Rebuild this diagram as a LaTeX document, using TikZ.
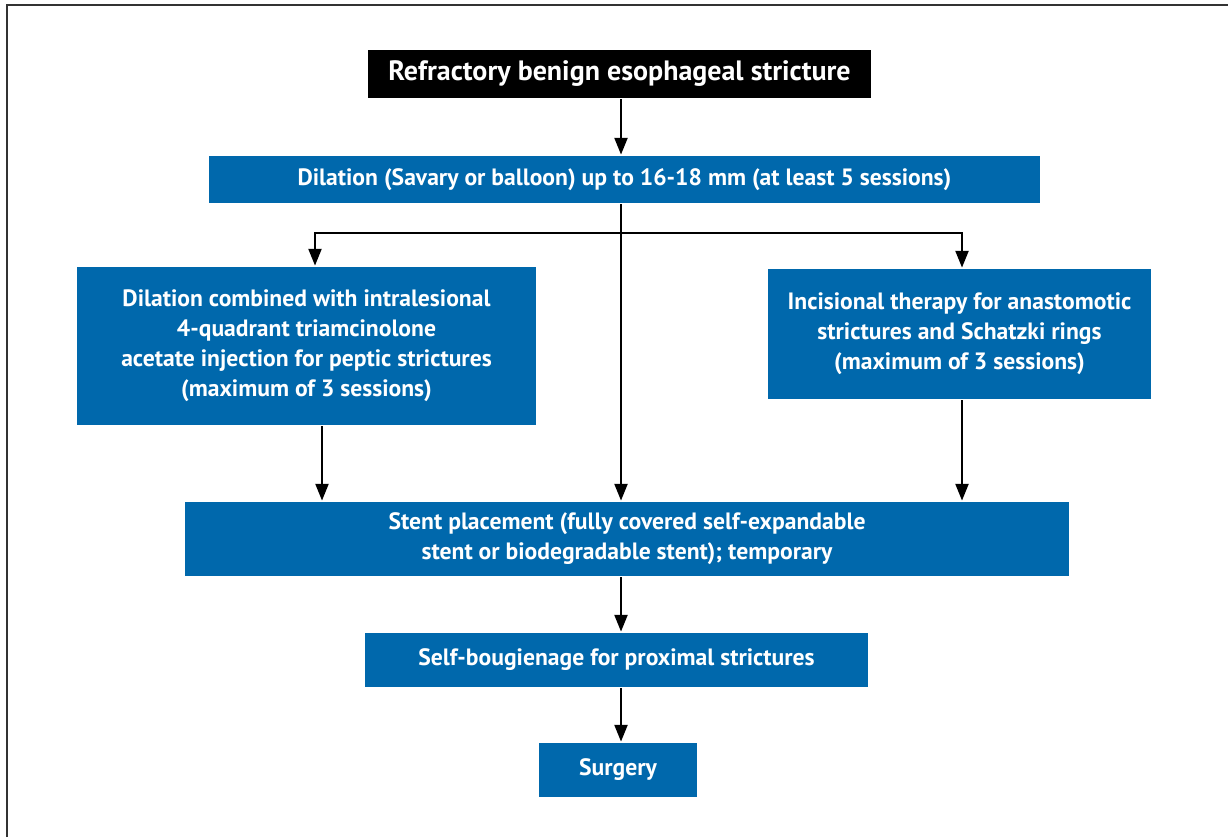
\documentclass[tikz,border=0pt]{standalone}
\usepackage{fontspec}
\setmainfont{PT Sans}
\usetikzlibrary{arrows.meta}
\definecolor{ebblue}{HTML}{0068AC}
\begin{document}
\begin{tikzpicture}[x=0.025cm, y=-0.025cm, line width=0.065cm,
	box/.style={fill=ebblue, text=white, inner sep=0pt, align=center,
		font=\bfseries\fontsize{16.8}{21.3}\selectfont},
	arr/.style={-{Triangle[length=0.42cm,width=0.32cm]}}]
	\useasboundingbox (0,0) rectangle (1228,837);
	\draw[line width=0.03cm, black!80] (7,837) -- (7,5) -- (1228,5);
	\node (T)  at (619.5,  74)	[box, fill=black, minimum width=12.575cm, minimum height=1.2cm,
		font=\bfseries\fontsize{19.9}{21}\selectfont]	{Refractory benign esophageal stricture};
	\node (D1) at (624.5, 179.5)	[box, minimum width=20.775cm, minimum height=1.175cm]	{Dilation (Savary or balloon) up to 16-18 mm (at least 5 sessions)};
	\node (D2) at (306.5, 346)	[box, minimum width=11.475cm, minimum height=3.95cm]	{Dilation combined with intralesional\\4-quadrant triamcinolone\\acetate injection for peptic strictures\\(maximum of 3 sessions)};
	\node (I1) at (959.5, 334)	[box, minimum width=9.575cm, minimum height=3.25cm]	{Incisional therapy for anastomotic\\strictures and Schatzki rings\\(maximum of 3 sessions)};
	\node (S1) at (627,   539)	[box, minimum width=22.1cm, minimum height=1.85cm]	{Stent placement (fully covered self-expandable\\stent or biodegradable stent); temporary};
	\node (B1) at (616.5, 660)	[box, minimum width=12.575cm, minimum height=1.35cm]	{Self-bougienage for proximal strictures};
	\node (O1) at (618,   770)	[box, minimum width=3.95cm, minimum height=1.35cm]	{Surgery};
	\coordinate (M) at (621, 0);
	\coordinate (J) at (621, 233);
	\draw[arr] (T.south -| M) -- (D1.north -| M);
	\draw[arr] (D1.south -| M) -- (S1.north -| M);
	\draw[arr] (J) -| (D2.north -| 315,0);
	\draw[arr] (J) -| (I1.north -| 962,0);
	\draw[arr] (D2.south -| 322,0) -- (S1.north -| 322,0);
	\draw[arr] (I1.south -| 962,0) -- (S1.north -| 962,0);
	\draw[arr] (S1.south -| M) -- (B1.north -| M);
	\draw[arr] (B1.south -| M) -- (O1.north -| M);
\end{tikzpicture}
\end{document}
